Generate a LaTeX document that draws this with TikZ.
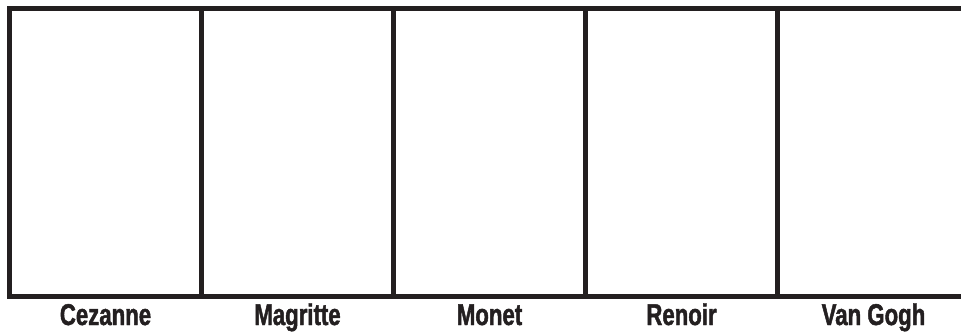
\documentclass[tikz,border=0pt]{standalone}
\usepackage{fontspec}
\setmainfont{Liberation Sans}[FakeStretch=0.74,BoldFeatures={FakeBold=1.5}]
\definecolor{ink}{HTML}{231F20}
\begin{document}
\begin{tikzpicture}[x=1pt,y=-1pt,
  panel/.style={draw=ink,line width=5pt,minimum width=192pt,minimum height=288pt,inner sep=0pt,outer sep=0pt,anchor=north west},
  lab/.style={text=ink,font=\fontsize{30}{33}\selectfont\bfseries,anchor=base,inner sep=0pt}]
\useasboundingbox (0,0) rectangle (961,332);
\node[panel] (p1) at (9.5,8.5) {};
\node[panel] (p2) at (201.5,8.5) {};
\node[panel] (p3) at (393.5,8.5) {};
\node[panel] (p4) at (585.5,8.5) {};
\node[panel] (p5) at (777.5,8.5) {};
\node[lab] (l1) at (105.5,325) {Cezanne};
\node[lab] (l2) at (297.5,325) {Magritte};
\node[lab] (l3) at (489.5,325) {Monet};
\node[lab] (l4) at (681.5,325) {Renoir};
\node[lab] (l5) at (873.5,325) {Van Gogh};
\end{tikzpicture}
\end{document}
